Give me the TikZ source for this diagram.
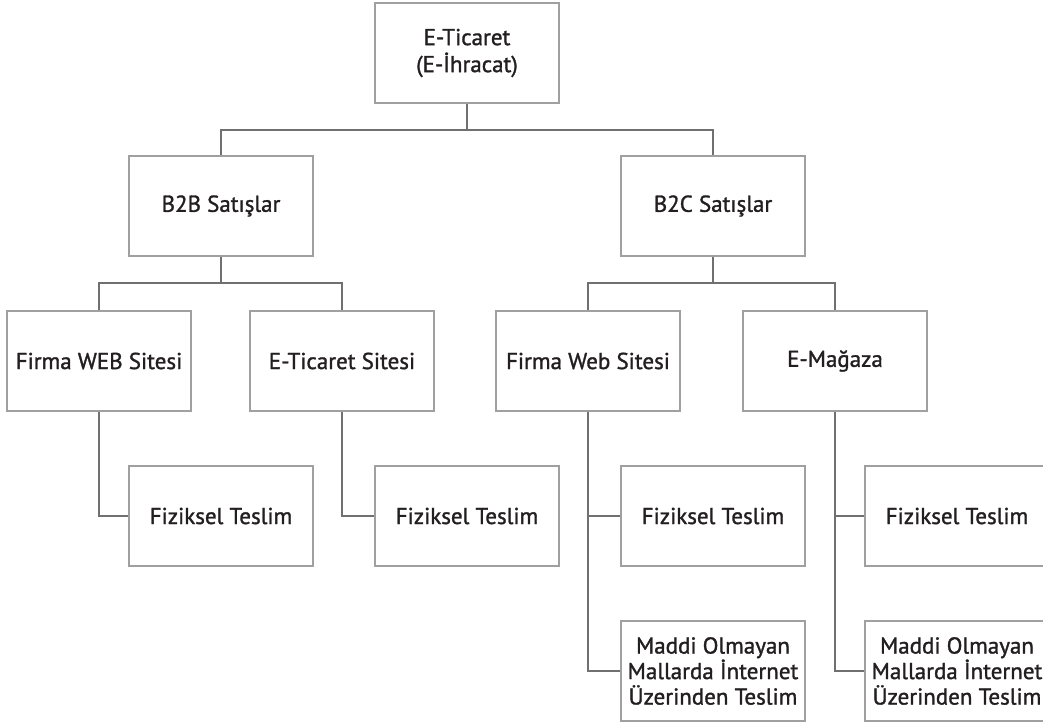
\documentclass[tikz,border=0pt]{standalone}
\usepackage{fontspec}
\setmainfont{PT Sans}
\newfontfamily\medf{PT Sans}[FakeBold=1.3]
\definecolor{boxline}{HTML}{A0A0A0}
\definecolor{conline}{HTML}{707070}
\definecolor{txt}{HTML}{231F20}
\begin{document}
\begin{tikzpicture}[x=1pt,y=-1pt,
  box/.style={draw=boxline,line width=1.3pt,rectangle,minimum width=184pt,minimum height=100pt,
    inner sep=0pt,align=center,text=txt,font=\medf\fontsize{23}{27}\selectfont},
  con/.style={draw=conline,line width=1.3pt}]
\clip (0,0) rectangle (1043,725);
\useasboundingbox (0,0) rectangle (1043,725);
\node[box] (top) at (467,53) {E-Ticaret\\(E-İhracat)};
\node[box] (b2b) at (221,206) {B2B Satışlar};
\node[box] (b2c) at (713,206) {B2C Satışlar};
\node[box] (fw1) at (99,361) {Firma WEB Sitesi};
\node[box] (ets) at (342,361) {E-Ticaret Sitesi};
\node[box] (fw2) at (588,361) {Firma Web Sitesi};
\node[box] (emg) at (835,361) {E-Mağaza};
\node[box] (f1) at (221,516) {Fiziksel Teslim};
\node[box] (f2) at (467,516) {Fiziksel Teslim};
\node[box] (f3) at (713,516) {Fiziksel Teslim};
\node[box] (f4) at (957,516) {Fiziksel Teslim};
\node[box,font=\medf\fontsize{23}{25.5}\selectfont] (m1) at (713,671) {Maddi Olmayan\\Mallarda İnternet\\Üzerinden Teslim};
\node[box,font=\medf\fontsize{23}{25.5}\selectfont] (m2) at (957,671) {Maddi Olmayan\\Mallarda İnternet\\Üzerinden Teslim};
\coordinate (j1) at (467,130);
\coordinate (j2) at (221,283);
\coordinate (j3) at (713,283);
\draw[con] (top.south) -- (j1);
\draw[con] (b2b.north) |- (j1) -| (b2c.north);
\draw[con] (b2b.south) -- (j2);
\draw[con] (fw1.north) |- (j2) -| (ets.north);
\draw[con] (b2c.south) -- (j3);
\draw[con] (fw2.north) |- (j3) -| (emg.north);
\draw[con] (fw1.south) |- (f1.west);
\draw[con] (ets.south) |- (f2.west);
\draw[con] (fw2.south) |- (f3.west);
\draw[con] (fw2.south) |- (m1.west);
\draw[con] (emg.south) |- (f4.west);
\draw[con] (emg.south) |- (m2.west);
\end{tikzpicture}
\end{document}
